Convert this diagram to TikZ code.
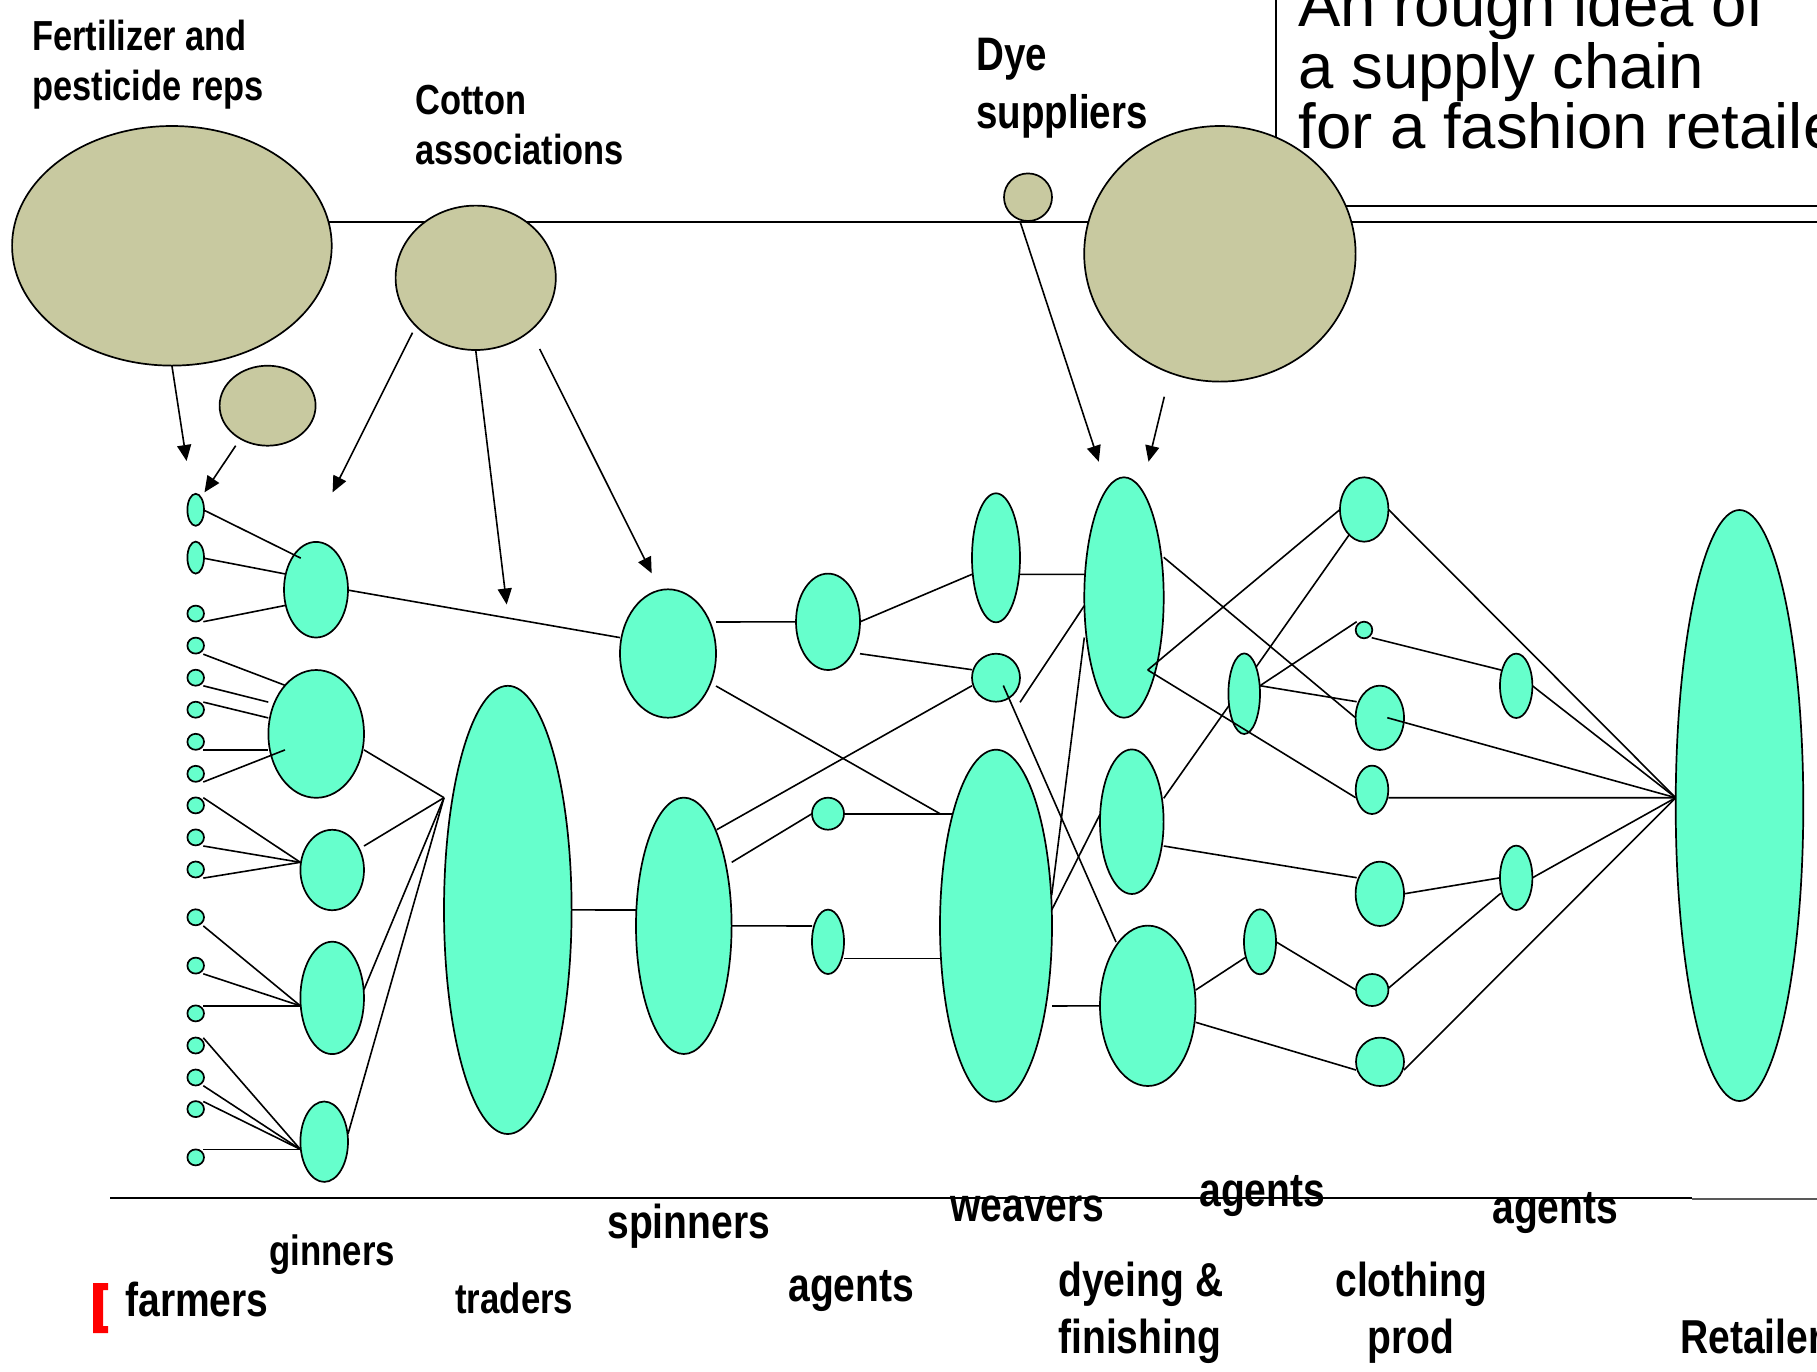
\documentclass[tikz,border=0pt]{standalone}
\usepackage{fontspec}
\setmainfont{Liberation Sans}
\newfontfamily\lblfont{Liberation Sans}[FakeStretch=0.82]
\usetikzlibrary{shapes.geometric,calc,arrows.meta}
\definecolor{sea}{RGB}{102,255,204}
\definecolor{khaki}{RGB}{200,201,160}
\pgfdeclarelayer{bg}
\pgfdeclarelayer{edges}
\pgfsetlayers{bg,edges,main}
% one ellipse: style, name, centre x, centre y, half width, half height (pixels)
\newcommand\blob[6]{\node[#1, minimum width=#5pt, minimum height=#6pt] (#2) at (#3,#4) {};}
\tikzset{
  blobshape/.style={ellipse, draw=black, line width=0.85pt, inner sep=0pt, outer sep=0pt},
  mint/.style={blobshape, fill=sea},
  sand/.style={blobshape, fill=khaki},
  link/.style={line width=0.8pt},
  feed/.style={link, -{Triangle[length=8pt,width=7pt]}},
  toplbl/.style={anchor=base west, inner sep=0pt, font=\lblfont\bfseries\fontsize{21}{25}\selectfont},
  dyelbl/.style={anchor=base west, inner sep=0pt, font=\lblfont\bfseries\fontsize{23.5}{28}\selectfont},
  stagelbl/.style={anchor=base west, inner sep=0pt, font=\lblfont\bfseries\fontsize{23.8}{28}\selectfont},
  smalllbl/.style={anchor=base west, inner sep=0pt, font=\lblfont\bfseries\fontsize{21.2}{25}\selectfont},
  ttl/.style={anchor=base west, inner sep=0pt, font=\fontsize{31.75}{30.5}\selectfont},
}
\begin{document}
\begin{tikzpicture}[x=0.5pt,y=-0.5pt]
\begin{pgfonlayer}{bg}
  \fill[white] (0,0) rectangle (1817,1372);
\end{pgfonlayer}
\useasboundingbox (0,0) rectangle (1817,1372);

% ---- suppliers (khaki) ----
\blob{sand}{fert}{171.9}{245.8}{159.8}{119.8}
\blob{sand}{fertb}{267.6}{405.7}{48}{40}
\blob{sand}{cotton}{475.7}{277.8}{80.1}{72.2}
\blob{sand}{dyes}{1028}{197.2}{24}{23.8}
\blob{sand}{dyel}{1219.9}{253.8}{135.7}{127.8}

% ---- farmers ----
\blob{mint}{f1}{195.7}{509.8}{8.3}{16}
\blob{mint}{f2}{195.7}{557.6}{8.3}{16}
\blob{mint}{f3}{195.7}{613.6}{8.3}{8}
\blob{mint}{f4}{195.7}{645.6}{8.3}{8}
\blob{mint}{f5}{195.7}{677.7}{8.3}{8}
\blob{mint}{f6}{195.7}{709.7}{8.3}{8}
\blob{mint}{f7}{195.7}{741.8}{8.3}{8}
\blob{mint}{f8}{195.7}{773.8}{8.3}{8}
\blob{mint}{f9}{195.7}{805.4}{8.3}{8}
\blob{mint}{f10}{195.7}{837.4}{8.3}{8}
\blob{mint}{f11}{195.7}{869.5}{8.3}{8}
\blob{mint}{f12}{195.7}{917.3}{8.3}{8}
\blob{mint}{f13}{195.7}{965.6}{8.3}{8}
\blob{mint}{f14}{195.7}{1013.4}{8.3}{8}
\blob{mint}{f15}{195.7}{1045.5}{8.3}{8}
\blob{mint}{f16}{195.7}{1077.5}{8.3}{8}
\blob{mint}{f17}{195.7}{1109.1}{8.3}{8}
\blob{mint}{f18}{195.7}{1157.4}{8.3}{8}

% ---- ginners, traders, spinners ----
\blob{mint}{g1}{316}{589.7}{32}{47.8}
\blob{mint}{g2}{316.2}{733.9}{47.8}{63.9}
\blob{mint}{g3}{332.2}{870}{31.8}{40.2}
\blob{mint}{g4}{332.2}{997.9}{31.8}{56.2}
\blob{mint}{g5}{324.2}{1141.7}{23.8}{40.2}
\blob{mint}{tr}{507.8}{909.9}{63.8}{224.1}
\blob{mint}{s1}{668}{653.5}{48}{64.2}
\blob{mint}{s2}{683.8}{925.8}{47.8}{128.2}

% ---- agents, weavers ----
\blob{mint}{a1a}{828}{621.8}{32}{48.2}
\blob{mint}{a1b}{828}{813.7}{16}{16}
\blob{mint}{a1c}{828}{941.8}{16}{32.2}
\blob{mint}{w1}{996}{557.8}{24}{64.5}
\blob{mint}{w2}{996}{677.7}{24}{24}
\blob{mint}{w3}{996}{925.7}{56}{176}

% ---- dyeing & finishing, agents ----
\blob{mint}{d1}{1124}{597.5}{39.7}{120.2}
\blob{mint}{d2}{1131.8}{821.7}{31.8}{72.3}
\blob{mint}{d3}{1147.8}{1005.8}{47.8}{80.2}
\blob{mint}{a2a}{1244.2}{693.7}{15.8}{40.3}
\blob{mint}{a2b}{1260}{941.8}{16}{32.5}

% ---- clothing production, agents, retailer ----
\blob{mint}{c1}{1364.2}{509.5}{24.2}{32.2}
\blob{mint}{c2}{1364}{630}{8.3}{8.3}
\blob{mint}{c3}{1379.8}{717.8}{24.2}{32.2}
\blob{mint}{c4}{1372}{789.8}{16.3}{24.2}
\blob{mint}{c5}{1379.8}{893.8}{24.2}{32.2}
\blob{mint}{c6}{1372.2}{990}{16.2}{16}
\blob{mint}{c7}{1380}{1061.8}{24}{24.2}
\blob{mint}{a3a}{1516.2}{685.8}{16.2}{32.2}
\blob{mint}{a3b}{1516.2}{877.8}{16.2}{32.2}
\blob{mint}{r}{1739.5}{805.5}{63.8}{295.5}

% junction points where several links meet
\coordinate (tj) at ($(tr)+(-63.8,-112.2)$);
\coordinate (rj) at ($(r)+(-63.8,-7.8)$);
\coordinate (dv) at ($(d1)+(23.7,72.5)$);

\begin{pgfonlayer}{edges}
  % frame lines
  \draw[line width=0.9pt] (1276,-20) -- (1276,206) -- (1840,206);
  \draw[line width=0.9pt] (320,221.7) -- (1840,221.7);
  \draw[line width=1pt] (110,1198.3) -- (1692,1198.3);
  \draw[line width=0.8pt, black!65] (1692,1198.8) -- (1840,1198.8);

  % supplier arrows
  \draw[feed] (fert.south) -- ($(f1)+(-9.1,-48.8)$);
  \draw[feed] ($(fertb)+(-31.9,40)$) -- ($(f1)+(8.8,-17.5)$);
  \draw[feed] ($(cotton)+(-63.2,54.9)$) -- ($(g1)+(16.6,-97.4)$);
  \draw[feed] (cotton.south) -- ($(tr)+(-1.1,-305.4)$);
  \draw[feed] ($(cotton)+(64,71.2)$) -- ($(s1)+(-16.3,-80.2)$);
  \draw[feed] ($(dyes)+(-8.1,23.8)$) -- ($(d1)+(-25.2,-135.8)$);
  \draw[feed] ($(dyel)+(-55.6,142.9)$) -- ($(d1)+(24.5,-135.8)$);

  % farmers to ginners
  \draw[link] ($(f2)+(7.6,0.5)$) -- ($(g1)+(-31,-15.8)$);
  \draw[link] ($(f3)+(7.6,8.1)$) -- ($(g1)+(-31,15.8)$);
  \draw[link] ($(f4)+(7.6,8.6)$) -- ($(g2)+(-31.2,-48.6)$);
  \draw[link] ($(f5)+(7.6,8.1)$) -- ($(g2)+(-47.9,-31.8)$);
  \draw[link] ($(f6)+(7.6,-7.6)$) -- ($(g2)+(-47.9,-16)$);
  \draw[link] ($(f7)+(7.6,8.1)$) -- ($(g2)+(-47.9,16)$);
  \draw[link] ($(f9)+(7.6,-7.7)$) -- ($(g3)+(-31.9,-7.7)$);
  \draw[link] ($(f10)+(7.6,8.6)$) -- ($(g3)+(-31.9,-7.7)$);
  \draw[link] ($(f11)+(7.6,8.6)$) -- ($(g3)+(-31.9,-7.7)$);
  \draw[link] ($(f12)+(7.6,8.6)$) -- ($(g4)+(-31.9,7.9)$);
  \draw[link] ($(f13)+(7.6,8.2)$) -- ($(g4)+(-31.9,7.9)$);
  \draw[link] ($(f14)+(7.6,-7.6)$) -- ($(g4)+(-31.9,7.9)$);
  \draw[link] ($(f15)+(7.6,-7.7)$) -- ($(g5)+(-23.9,7.6)$);
  \draw[link] ($(f16)+(7.6,8.2)$) -- ($(g5)+(-23.9,7.6)$);
  \draw[link] ($(f17)+(7.6,-7.6)$) -- ($(g5)+(-23.9,7.6)$);
  \draw[link] ($(f18)+(7.6,-8.1)$) -- ($(g5)+(-23.9,7.6)$);

  % ginners to traders and spinners
  \draw[link] ($(g1)+(32,0.4)$) -- ($(s1)+(-48,-15.9)$);
  \draw[link] ($(g2)+(47.8,16)$) -- (tj);
  \draw[link] ($(g3)+(31.8,-24)$) -- (tj);
  \draw[link] ($(g4)+(31.8,-8.4)$) -- (tj);
  \draw[link] ($(g5)+(23.8,-7.7)$) -- (tj);
  \draw[link] (tr.east) -- ($(s2)+(-47.8,-15.8)$);

  % spinners, agents, weavers
  \draw[link] ($(s1)+(48,-31.5)$) -- (a1a.west);
  \draw[link] (a1a.east) -- ($(w1)+(-24,16.5)$);
  \draw[link] ($(a1a)+(32,31.9)$) -- ($(w2)+(-24,-8)$);
  \draw[link] ($(s1)+(48,32.5)$) -- ($(w3)+(-56,-112)$);
  \draw[link] (a1b.east) -- ($(w3)+(-40,-112)$);
  \draw[link] ($(s2)+(32.9,-96.1)$) -- ($(w2)+(-24,8)$);
  \draw[link] ($(s2)+(47.9,-63.5)$) -- (a1b.west);
  \draw[link] (s2.east) -- ($(a1c)+(-16,-15.8)$);
  \draw[link] ($(a1c)+(16,16.5)$) -- ($(w3)+(-56,32.6)$);

  % weavers to dyeing & finishing
  \draw[link] ($(w1)+(24,16.5)$) -- ($(d1)+(-40,-23.2)$);
  \draw[link] ($(w2)+(24,24.6)$) -- ($(d1)+(-39.7,8.2)$);
  \draw[link] ($(w3)+(55.7,-30.7)$) -- ($(d1)+(-39.7,40)$);
  \draw[link] ($(w3)+(55.7,-15.7)$) -- ($(d2)+(-31.8,-7.4)$);
  \draw[link] ($(w3)+(56,80.3)$) -- (d3.west);

  % dyeing & finishing to clothing production
  \draw[link] ($(d1)+(39.7,-40.2)$) -- (c3.west);
  \draw[link] ($(d2)+(31.9,-23.4)$) -- ($(c1)+(-15.2,25.5)$);
  \draw[link] ($(a2a)+(15.8,-8)$) -- ($(c2)+(-7.3,-8.3)$);
  \draw[link] ($(a2a)+(15.8,-8)$) -- ($(c3)+(-23.1,-16.1)$);
  \draw[link] ($(d2)+(31.9,24.3)$) -- ($(c5)+(-23.1,-16.1)$);
  \draw[link] ($(d3)+(47.9,-15.8)$) -- ($(a2b)+(-15,15.9)$);
  \draw[link] (a2b.east) -- (c6.west);
  \draw[link] ($(d3)+(47.9,16.5)$) -- ($(c7)+(-24,8.2)$);

  % clothing production to agents and retailer
  \draw[link] ($(c2)+(7.7,7.7)$) -- ($(a3a)+(-15.2,-15.8)$);
  \draw[link] (c5.east) -- (a3b.west);
  \draw[link] ($(c6)+(16.1,-1.7)$) -- ($(a3b)+(-15.5,15.5)$);
  \draw[link] (c1.east) -- (rj);
  \draw[link] (a3a.east) -- (rj);
  \draw[link] ($(c4)+(16.3,7.9)$) -- (rj);
  \draw[link] (a3b.east) -- (rj);
  \draw[link] ($(c7)+(24,8.2)$) -- (rj);
\end{pgfonlayer}

% links drawn over the ellipses
\draw[link] ($(f1)+(7.6,0)$) -- ($(g1)+(-15.3,-31.6)$);
\draw[link] ($(f8)+(7.6,8.2)$) -- ($(g2)+(-31.2,16)$);
\draw[link] ($(w2)+(7.3,7.8)$) -- ($(d3)+(-31.8,-63.8)$);
\draw[link] (dv) -- (c1.west);
\draw[link] (dv) -- ($(c4)+(-16.3,7.9)$);
\draw[link] ($(c3)+(7.5,-0.1)$) -- (rj);

% title
\node[ttl] (title1) at (1298,26.7) {An rough idea of};
\node[ttl] (title2) at (1298,88.3) {a supply chain};
\node[ttl] (title3) at (1298,148.3) {for a fashion retailer};

% supplier labels
\node[toplbl] (lfert1) at (32,50) {Fertilizer and};
\node[toplbl] (lfert2) at (32,100) {pesticide reps};
\node[toplbl] (lcot1) at (415,114) {Cotton};
\node[toplbl] (lcot2) at (415,164) {associations};
\node[dyelbl] (ldye1) at (976,70) {Dye};
\node[dyelbl] (ldye2) at (976,128.5) {suppliers};

% stage labels
\fill[red] (93,1283) -- (108,1283) -- (108,1290) -- (103,1290) -- (103,1326) -- (108,1326) -- (108,1333) -- (93,1333) -- cycle;
\node[stagelbl] (lfarm) at (125,1316.7) {farmers};
\node[smalllbl] (lgin) at (269,1265) {ginners};
\node[smalllbl] (ltrad) at (455,1313) {traders};
\node[stagelbl] (lspin) at (607,1238.3) {spinners};
\node[stagelbl] (lag1) at (788,1301.7) {agents};
\node[stagelbl] (lweav) at (950,1221.7) {weavers};
\node[stagelbl] (lag2) at (1199,1206.7) {agents};
\node[stagelbl] (lag3) at (1492,1223) {agents};
\node[stagelbl] (ldye3) at (1058,1296.7) {dyeing \&};
\node[stagelbl] (ldye4) at (1058,1353) {finishing};
\node[stagelbl] (lcl1) at (1335,1296.7) {clothing};
\node[stagelbl] (lcl2) at (1367,1353) {prod};
\node[stagelbl] (lret) at (1680,1353) {Retailer};
\end{tikzpicture}
\end{document}
